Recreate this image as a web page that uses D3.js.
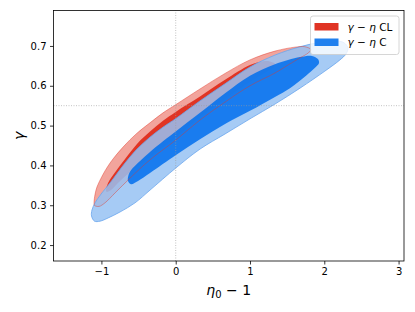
<!DOCTYPE html>
<html>
<head>
<meta charset="utf-8">
<script src="https://cdn.jsdelivr.net/npm/d3@7"></script>
<style>
  body { margin: 0; background: #fff; }
  svg { display: block; font-family: "DejaVu Sans", sans-serif; }
</style>
</head>
<body>
<div id="chart"></div>
<script>
// contour outlines, [eta0 - 1, gamma]
const redOuter = [
  [-1.096, 0.300], [-1.073, 0.338], [-1.005, 0.368], [-0.884, 0.406], [-0.709, 0.446],
  [-0.521, 0.481], [-0.346, 0.507], [-0.171, 0.532], [0.004, 0.553], [0.327, 0.592],
  [0.664, 0.631], [1.000, 0.665], [1.336, 0.687], [1.606, 0.697], [1.740, 0.698],
  [1.821, 0.691],
  [1.781, 0.682], [1.673, 0.670], [1.538, 0.655], [1.336, 0.632], [1.000, 0.600],
  [0.664, 0.559], [0.327, 0.514], [0.004, 0.464], [-0.346, 0.414], [-0.615, 0.368],
  [-0.816, 0.331], [-0.952, 0.306], [-1.032, 0.297], [-1.079, 0.298]
];
const redInner = [
  [-0.938, 0.336], [-0.911, 0.356], [-0.816, 0.383], [-0.682, 0.416], [-0.521, 0.454],
  [-0.346, 0.485], [-0.171, 0.512], [0.004, 0.535], [0.327, 0.573], [0.664, 0.615],
  [1.000, 0.652], [1.162, 0.661], [1.269, 0.661], [1.336, 0.655],
  [1.323, 0.647], [1.242, 0.637], [1.135, 0.625], [1.000, 0.610], [0.664, 0.567],
  [0.327, 0.522], [0.004, 0.471], [-0.346, 0.422], [-0.615, 0.383], [-0.777, 0.356],
  [-0.871, 0.338], [-0.925, 0.333]
];
const blueOuter = [
  [-1.133, 0.273], [-1.127, 0.288], [-1.086, 0.306], [-1.005, 0.328], [-0.884, 0.356],
  [-0.682, 0.406], [-0.521, 0.441], [-0.346, 0.471], [-0.171, 0.496], [0.004, 0.518],
  [0.327, 0.562], [0.664, 0.605], [1.000, 0.647], [1.336, 0.677], [1.673, 0.698],
  [1.942, 0.709], [2.144, 0.713], [2.265, 0.708], [2.319, 0.695],
  [2.292, 0.680], [2.211, 0.665], [2.009, 0.637], [1.673, 0.594], [1.336, 0.554],
  [1.000, 0.517], [0.664, 0.479], [0.327, 0.441], [0.004, 0.394], [-0.346, 0.338],
  [-0.548, 0.306], [-0.750, 0.283], [-0.911, 0.268], [-1.019, 0.260], [-1.093, 0.260]
];
const blueInner = [
  [-0.635, 0.376], [-0.602, 0.388], [-0.480, 0.411], [-0.346, 0.434], [-0.171, 0.461],
  [0.004, 0.486], [0.327, 0.532], [0.664, 0.581], [1.000, 0.625], [1.336, 0.654],
  [1.673, 0.672], [1.834, 0.675], [1.915, 0.667],
  [1.929, 0.657], [1.875, 0.645], [1.754, 0.625], [1.538, 0.594], [1.336, 0.572],
  [1.000, 0.537], [0.664, 0.504], [0.327, 0.466], [0.004, 0.426], [-0.346, 0.381],
  [-0.507, 0.361], [-0.602, 0.353], [-0.642, 0.361]
];
const xTicks = [-1, 0, 1, 2, 3];
const yTicks = [0.2, 0.3, 0.4, 0.5, 0.6, 0.7];
const refX = 0, refY = 0.55;
const legendLabels = ["CL", "C"];

const width = 415, height = 312;
const margin = {top: 10.5, right: 11, bottom: 51, left: 53.5};

const svg = d3.select("#chart").append("svg")
  .attr("width", width)
  .attr("height", height);

const x = d3.scaleLinear().domain([-1.645, 3.073]).range([margin.left, width - margin.right]);
const y = d3.scaleLinear().domain([0.160, 0.789]).range([height - margin.bottom, margin.top]);

const area = d3.line()
  .x(d => x(d[0]))
  .y(d => y(d[1]))
  .curve(d3.curveCatmullRomClosed.alpha(0.5));

const plot = svg.append("g");

// red set, drawn first
plot.append("path").attr("d", area(redOuter))
  .attr("fill", "#f2a49c");
plot.append("path").attr("d", area(redInner))
  .attr("fill", "#e03424");

// blue set on top, semi transparent
plot.append("path").attr("d", area(blueOuter))
  .attr("fill", "rgb(150,194,243)")
  .attr("fill-opacity", 0.85)
  .attr("stroke", "#6aa6ee")
  .attr("stroke-width", 0.8);
plot.append("path").attr("d", area(blueInner))
  .attr("fill", "#006fed")
  .attr("fill-opacity", 0.85);

// outer red edge shows through
plot.append("path").attr("d", area(redOuter))
  .attr("fill", "none")
  .attr("stroke", "#e03424")
  .attr("stroke-opacity", 0.55)
  .attr("stroke-width", 0.8);

// reference lines
plot.append("line")
  .attr("x1", x(refX)).attr("x2", x(refX))
  .attr("y1", y.range()[0]).attr("y2", y.range()[1])
  .attr("stroke", "#999").attr("stroke-opacity", 0.6)
  .attr("stroke-width", 1).attr("stroke-dasharray", "1,1.5");
plot.append("line")
  .attr("x1", x.range()[0]).attr("x2", x.range()[1])
  .attr("y1", y(refY)).attr("y2", y(refY))
  .attr("stroke", "#999").attr("stroke-opacity", 0.6)
  .attr("stroke-width", 1).attr("stroke-dasharray", "1,1.5");

// axes
const xAxis = svg.append("g")
  .attr("transform", `translate(0,${height - margin.bottom})`)
  .call(d3.axisBottom(x).tickValues(xTicks).tickSize(3.5).tickPadding(3.5)
    .tickFormat(d => d < 0 ? "\u2212" + Math.abs(d) : d));
const yAxis = svg.append("g")
  .attr("transform", `translate(${margin.left},0)`)
  .call(d3.axisLeft(y).tickValues(yTicks).tickSize(3.5).tickPadding(3.5)
    .tickFormat(d3.format(".1f")));
[xAxis, yAxis].forEach(g => {
  g.select(".domain").remove();
  g.selectAll("line").attr("stroke", "#000").attr("stroke-width", 0.8);
  g.selectAll("text").attr("font-size", 10).attr("fill", "#000")
    .attr("font-family", "DejaVu Sans");
});

svg.append("rect")
  .attr("x", margin.left).attr("y", margin.top)
  .attr("width", width - margin.left - margin.right)
  .attr("height", height - margin.top - margin.bottom)
  .attr("fill", "none").attr("stroke", "#000").attr("stroke-width", 0.8);

// axis labels
const xl = svg.append("text")
  .attr("x", (x.range()[0] + x.range()[1]) / 2)
  .attr("y", 295)
  .attr("text-anchor", "middle")
  .attr("font-size", 14);
xl.append("tspan").attr("font-style", "italic").text("\u03b7");
xl.append("tspan").attr("font-size", 10).attr("dy", 3).text("0");
xl.append("tspan").attr("dy", -3).text(" \u2212 1");

svg.append("text")
  .attr("transform", `translate(24,${(y.range()[0] + y.range()[1]) / 2}) rotate(-90)`)
  .attr("text-anchor", "middle")
  .attr("font-size", 14)
  .attr("font-style", "italic")
  .text("\u03b3");

// legend
const lg = svg.append("g").attr("transform", "translate(310.5,16)");
lg.append("rect")
  .attr("width", 88.5).attr("height", 38.5).attr("rx", 2.5)
  .attr("fill", "#fff").attr("fill-opacity", 0.8)
  .attr("stroke", "#ccc").attr("stroke-width", 0.8);
const legColors = ["#e03424", "#2080ee"];
legendLabels.forEach((lab, i) => {
  const row = lg.append("g").attr("transform", `translate(0,${7 + i * 15.5})`);
  row.append("rect").attr("x", 4).attr("y", 0)
    .attr("width", 24).attr("height", 7.5)
    .attr("fill", legColors[i]);
  const t = row.append("text").attr("x", 37).attr("y", 7.8).attr("font-size", 10.5);
  t.append("tspan").attr("font-style", "italic").text("\u03b3");
  t.append("tspan").text(" \u2212 ");
  t.append("tspan").attr("font-style", "italic").text("\u03b7");
  t.append("tspan").text(" " + lab);
});
</script>
</body>
</html>
